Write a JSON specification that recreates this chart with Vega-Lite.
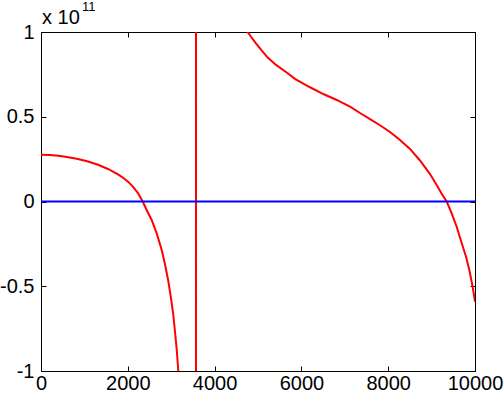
{
  "$schema": "https://vega.github.io/schema/vega-lite/v6.json",
  "width": 434,
  "height": 339,
  "autosize": {"type": "none"},
  "padding": {"left": 41, "top": 32, "right": 29, "bottom": 23},
  "background": "white",
  "config": {
    "view": {"stroke": "black", "strokeWidth": 1},
    "font": "Liberation Sans",
    "axis": {"grid": false, "domain": false, "ticks": true, "tickColor": "#000000", "tickSize": 5, "tickWidth": 1, "tickOpacity": 1, "zindex": 1, "labelColor": "black", "labelFont": "Liberation Sans", "labelFontSize": 20, "title": null}
  },
  "datasets": {
    "red": [
      {"i": 0, "x": 0, "y": 0.276},
      {"i": 1, "x": 200, "y": 0.274},
      {"i": 2, "x": 400, "y": 0.270},
      {"i": 3, "x": 600, "y": 0.263},
      {"i": 4, "x": 853, "y": 0.251},
      {"i": 5, "x": 1083, "y": 0.236},
      {"i": 6, "x": 1313, "y": 0.217},
      {"i": 7, "x": 1544, "y": 0.192},
      {"i": 8, "x": 1774, "y": 0.160},
      {"i": 9, "x": 1900, "y": 0.139},
      {"i": 10, "x": 2005, "y": 0.117},
      {"i": 11, "x": 2127, "y": 0.085},
      {"i": 12, "x": 2235, "y": 0.050},
      {"i": 13, "x": 2343, "y": 0.0},
      {"i": 14, "x": 2435, "y": -0.05},
      {"i": 15, "x": 2550, "y": -0.109},
      {"i": 16, "x": 2666, "y": -0.188},
      {"i": 17, "x": 2781, "y": -0.286},
      {"i": 18, "x": 2857, "y": -0.37},
      {"i": 19, "x": 2934, "y": -0.47},
      {"i": 20, "x": 2995, "y": -0.57},
      {"i": 21, "x": 3049, "y": -0.67},
      {"i": 22, "x": 3088, "y": -0.77},
      {"i": 23, "x": 3126, "y": -0.87},
      {"i": 24, "x": 3164, "y": -1.0},
      {"i": 25, "x": 3250, "y": -1.5},
      {"i": 26, "x": 3350, "y": -2.6},
      {"i": 27, "x": 3450, "y": -5},
      {"i": 28, "x": 3530, "y": -15},
      {"i": 29, "x": 3571, "y": -100},
      {"i": 30, "x": 3571, "y": 100},
      {"i": 31, "x": 3650, "y": 8},
      {"i": 32, "x": 3800, "y": 4},
      {"i": 33, "x": 4000, "y": 2.4},
      {"i": 34, "x": 4300, "y": 1.6},
      {"i": 35, "x": 4550, "y": 1.2},
      {"i": 36, "x": 4762, "y": 1.0},
      {"i": 37, "x": 4839, "y": 0.972},
      {"i": 38, "x": 4954, "y": 0.933},
      {"i": 39, "x": 5069, "y": 0.896},
      {"i": 40, "x": 5223, "y": 0.849},
      {"i": 41, "x": 5415, "y": 0.806},
      {"i": 42, "x": 5645, "y": 0.764},
      {"i": 43, "x": 5860, "y": 0.722},
      {"i": 44, "x": 6198, "y": 0.674},
      {"i": 45, "x": 6505, "y": 0.634},
      {"i": 46, "x": 6813, "y": 0.599},
      {"i": 47, "x": 7120, "y": 0.560},
      {"i": 48, "x": 7350, "y": 0.522},
      {"i": 49, "x": 7581, "y": 0.486},
      {"i": 50, "x": 7811, "y": 0.450},
      {"i": 51, "x": 8041, "y": 0.410},
      {"i": 52, "x": 8272, "y": 0.363},
      {"i": 53, "x": 8502, "y": 0.310},
      {"i": 54, "x": 8733, "y": 0.242},
      {"i": 55, "x": 8963, "y": 0.162},
      {"i": 56, "x": 9117, "y": 0.097},
      {"i": 57, "x": 9232, "y": 0.046},
      {"i": 58, "x": 9348, "y": 0.0},
      {"i": 59, "x": 9463, "y": -0.07},
      {"i": 60, "x": 9578, "y": -0.149},
      {"i": 61, "x": 9693, "y": -0.245},
      {"i": 62, "x": 9793, "y": -0.326},
      {"i": 63, "x": 9869, "y": -0.404},
      {"i": 64, "x": 9946, "y": -0.503},
      {"i": 65, "x": 10000, "y": -0.591}
    ],
    "blue": [
      {"x": 0, "y": 0},
      {"x": 10000, "y": 0}
    ],
    "label": [
      {"x": 0, "y": 1, "t": "x 10", "s": "11"}
    ]
  },
  "layer": [
    {
      "data": {"name": "red"},
      "mark": {"type": "line", "color": "#ff0000", "strokeWidth": 2, "clip": true},
      "encoding": {
        "x": {"field": "x", "type": "quantitative", "scale": {"domain": [0, 10000], "nice": false, "zero": false}, "axis": {"orient": "bottom", "values": [0, 2000, 4000, 6000, 8000, 10000], "format": "d", "offset": -5, "labelPadding": 2, "labelFlush": false}},
        "y": {"field": "y", "type": "quantitative", "scale": {"domain": [-1, 1], "nice": false, "zero": false}, "axis": {"orient": "left", "values": [-1, -0.5, 0, 0.5, 1], "labelExpr": "toString(datum.value)", "offset": -5, "labelPadding": 7, "labelFlush": false}},
        "order": {"field": "i", "type": "quantitative"}
      }
    },
    {
      "data": {"name": "blue"},
      "mark": {"type": "line", "color": "#0000ff", "strokeWidth": 2, "clip": true},
      "encoding": {
        "x": {"field": "x", "type": "quantitative", "axis": {"orient": "top", "values": [0, 2000, 4000, 6000, 8000, 10000], "labels": false, "offset": -5}},
        "y": {"field": "y", "type": "quantitative", "axis": {"orient": "right", "values": [-1, -0.5, 0, 0.5, 1], "labels": false, "offset": -5}}
      }
    },
    {
      "data": {"name": "label"},
      "mark": {"type": "text", "align": "left", "baseline": "alphabetic", "fontSize": 20, "dx": 1, "dy": -8, "color": "black"},
      "encoding": {
        "x": {"field": "x", "type": "quantitative", "axis": null},
        "y": {"field": "y", "type": "quantitative", "axis": null},
        "text": {"field": "t"}
      }
    },
    {
      "data": {"name": "label"},
      "mark": {"type": "text", "align": "left", "baseline": "alphabetic", "fontSize": 13, "dx": 41, "dy": -21, "color": "black"},
      "encoding": {
        "x": {"field": "x", "type": "quantitative", "axis": null},
        "y": {"field": "y", "type": "quantitative", "axis": null},
        "text": {"field": "s"}
      }
    }
  ],
  "resolve": {"axis": {"x": "independent", "y": "independent"}}
}
